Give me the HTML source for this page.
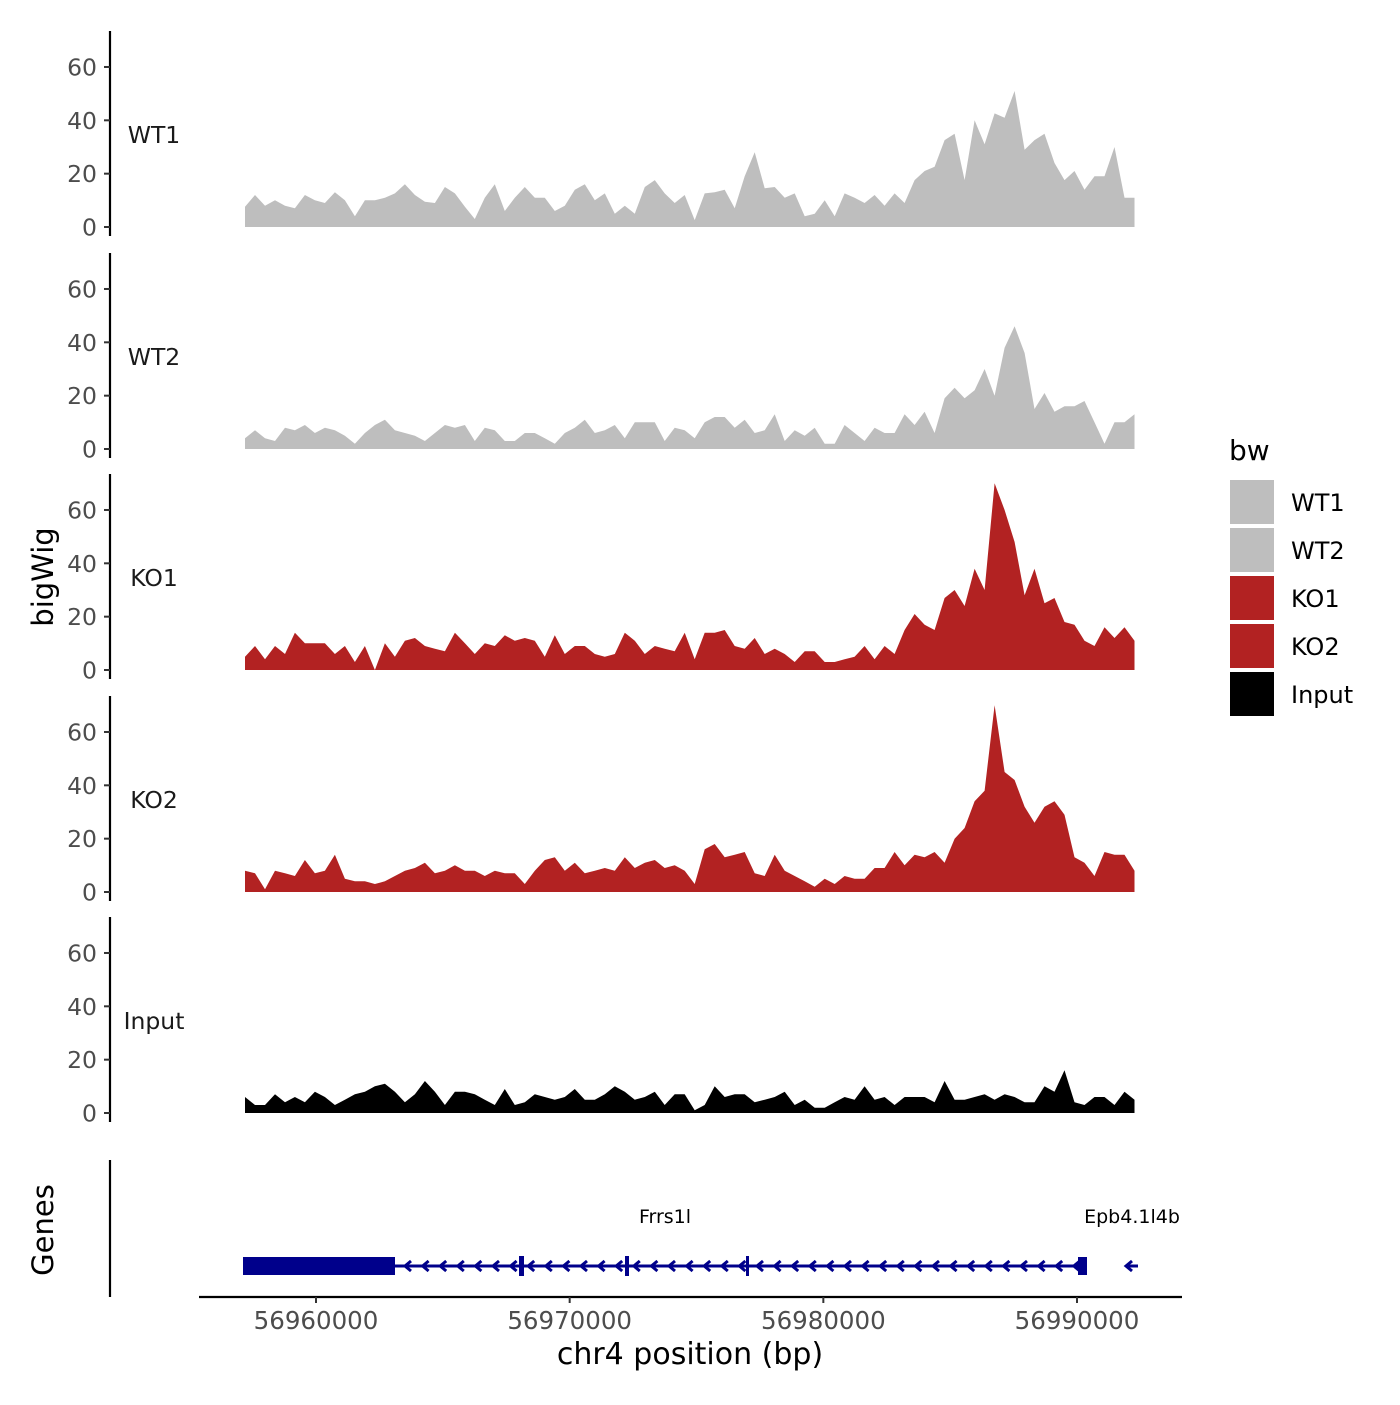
<!DOCTYPE html>
<html><head><meta charset="utf-8">
<style>
html,body{margin:0;padding:0;background:#fff;}
svg text{font-family:"DejaVu Sans","Liberation Sans",sans-serif;}
</style></head>
<body>
<svg id="chart" width="1400" height="1400" viewBox="0 0 1400 1400" xmlns="http://www.w3.org/2000/svg">
<rect width="1400" height="1400" fill="#fff"/>
<g id="panels"></g>
<g id="genes"></g>
<g id="xaxis"></g>
<text transform="translate(53,577) rotate(-90)" font-size="29" text-anchor="middle" fill="#000">bigWig</text>
<text transform="translate(53,1230) rotate(-90)" font-size="29" text-anchor="middle" fill="#000">Genes</text>
<text x="690" y="1364" font-size="30" text-anchor="middle" fill="#000">chr4 position (bp)</text>
<g>
<text x="1229" y="460" font-size="28" fill="#000">bw</text>
<g id="legend-items"></g>
</g>
</svg>
<script>
const seriesNames = ["WT1","WT2","KO1","KO2","Input"];
const seriesColors = ["#bebebe","#bebebe","#b22222","#b22222","#000000"];
const posStart = 56957200;
const posStep = 394;
const yTicks = [0,20,40,60];
const xTicks = [56960000,56970000,56980000,56990000];
const xTickLabels = ["56960000","56970000","56980000","56990000"];
const wt1 = [7.6,12,8,10,8,7,12,10,9,13,10,4,10,10,11,12.6,16,12,9.5,9,15,12.6,7.6,3,11,16,6,11,15,11,11,6,8,14,16,10,12.6,5,8,5,15,17.6,12.6,9,12,2.6,12.6,13,14,7,19,28,14.5,15,11,12.6,4,5,10,4,12.6,11,9,12,8,12.6,9,17.6,21,22.6,32.6,35,17.6,40,31,42.6,41,51,29,32.6,35,24,17.6,21,14,19,19,30,11,11];
const wt2 = [4,7,4,3,8,7,9,6,8,7,5,2,6,9,11,7,6,5,3,6,9,8,9,3,8,7,3,3,6,6,4,2,6,8,11,6,7,9,4,10,10,10,3,8,7,4,10,12,12,8,11,6,7,13,3,7,5,8,2,2,9,6,3,8,6,6,13,9,14,6,19,23,19,22,30,20,38,46,36,15,21,14,16,16,18,10,2,10,10,13];
const ko1 = [5,9,4,9,6,14,10,10,10,6,9,3,9,0,10,5,11,12,9,8,7,14,10,6,10,9,13,11,12,11,5,13,6,9,9,6,5,6,14,11,6,9,8,7,14,4,14,14,15,9,8,12,6,8,6,3,7,7,3,3,4,5,9,4,9,6,15,21,17,15,27,30,24,38,30,70,60,48,28,38,25,27,18,17,11,9,16,12,16,11];
const ko2 = [8,7,1,8,7,6,12,7,8,14,5,4,4,3,4,6,8,9,11,7,8,10,8,8,6,8,7,7,3,8,12,13,8,11,7,8,9,8,13,9,11,12,9,10,8,3,16,18,13,14,15,7,6,14,8,6,4,2,5,3,6,5,5,9,9,15,10,14,13,15,11,20,24,34,38,70,45,42,32,26,32,34,29,13,11,6,15,14,14,8];
const input = [6,3,3,7,4,6,4,8,6,3,5,7,8,10,11,8,4,7,12,8,3,8,8,7,5,3,9,3,4,7,6,5,6,9,5,5,7,10,8,5,6,8,3,7,7,1,3,10,6,7,7,4,5,6,8,3,5,2,2,4,6,5,10,5,6,3,6,6,6,4,12,5,5,6,7,5,7,6,4,4,10,8,16,4,3,6,6,3,8,5];
const allSeries = [wt1,wt2,ko1,ko2,input];

const NS = "http://www.w3.org/2000/svg";
function xScale(bp){ return 316 + (bp - 56960000) * 0.025367; }
const zeros = [227,449,670,892,1113];
function yScale(panel,v){ return zeros[panel] - v * 2.667; }
function mk(tag, attrs, parent){ const e=document.createElementNS(NS,tag); for(const k in attrs) e.setAttribute(k,attrs[k]); parent.appendChild(e); return e; }

const panels = document.getElementById('panels');
allSeries.forEach((vals,p)=>{
  const g = mk('g',{},panels);
  
  
  let d = 'M' + xScale(posStart).toFixed(1) + ',' + yScale(p,0).toFixed(1);
  vals.forEach((v,i)=>{ d += ' L' + xScale(posStart + i*posStep).toFixed(1) + ',' + yScale(p,v).toFixed(1); });
  d += ' L' + xScale(posStart + (vals.length-1)*posStep).toFixed(1) + ',' + yScale(p,0).toFixed(1) + ' Z';
  const area = mk('path',{d:d, fill:seriesColors[p]},g);
  
  
  const ax = mk('line',{x1:110,x2:110,y1:yScale(p,0)-196,y2:yScale(p,0)+9,stroke:'#000','stroke-width':2.2},g);
  
  
  yTicks.forEach(t=>{
    const y = yScale(p,t);
    const tk = mk('line',{x1:104,x2:110,y1:y,y2:y,stroke:'#333','stroke-width':2},g);
    
    
    const tl = mk('text',{x:97,y:y+8.5,'font-size':23.5,'text-anchor':'end',fill:'#4d4d4d'},g);
    tl.textContent = String(t);
    
    
  });
  const lab = mk('text',{x:154,y:yScale(p,0)-84,'font-size':23.5,'text-anchor':'middle',fill:'#1a1a1a'},g);
  lab.textContent = seriesNames[p];
  
  
});

const gg = document.getElementById('genes');
const navy = '#00008b';
const gAx = mk('line',{x1:110,x2:110,y1:1160,y2:1297,stroke:'#000','stroke-width':2.2},gg);


const gl = mk('line',{x1:245,x2:1085,y1:1266,y2:1266,stroke:navy,'stroke-width':3},gg);


const box1 = mk('rect',{x:243,y:1257,width:152,height:18,fill:navy},gg);


[[519,5],[625,4],[746,3]].forEach(e=>{
  const r = mk('rect',{x:e[0],y:1256,width:e[1],height:20,fill:navy},gg);
  
  
});
const box2 = mk('rect',{x:1078,y:1257,width:9,height:18,fill:navy},gg);


let ad = '';
for(let x=405; x<1075; x+=17.6){ ad += 'M'+(x+6)+',1261 L'+x+',1266 L'+(x+6)+',1271 '; }
ad += 'M1132,1261 L1126,1266 L1132,1271 M1126,1266 L1138,1266';
const arr = mk('path',{d:ad,stroke:navy,'stroke-width':3,fill:'none'},gg);


const t1 = mk('text',{x:665,y:1223,'font-size':19,'text-anchor':'middle',fill:'#000'},gg);
t1.textContent = 'Frrs1l';


const t2 = mk('text',{x:1132,y:1223,'font-size':19,'text-anchor':'middle',fill:'#000'},gg);
t2.textContent = 'Epb4.1l4b';



const xa = document.getElementById('xaxis');
const xl = mk('line',{x1:199,x2:1182,y1:1297,y2:1297,stroke:'#000','stroke-width':2.2},xa);


xTicks.forEach((t,i)=>{
  const x = xScale(t);
  const tk = mk('line',{x1:x,x2:x,y1:1297,y2:1303,stroke:'#333','stroke-width':2},xa);
  
  
  const tl = mk('text',{x:x,y:1329,'font-size':24.5,'text-anchor':'middle',fill:'#4d4d4d'},xa);
  tl.textContent = xTickLabels[i];
  
  
});

const li = document.getElementById('legend-items');
seriesNames.forEach((n,i)=>{
  const y = 480 + i*48;
  const r = mk('rect',{x:1230,y:y,width:44,height:44,fill:seriesColors[i]},li);
  
  
  const t = mk('text',{x:1291,y:y+31,'font-size':24,fill:'#000'},li);
  t.textContent = n;
  
  
});
</script>
</body></html>
